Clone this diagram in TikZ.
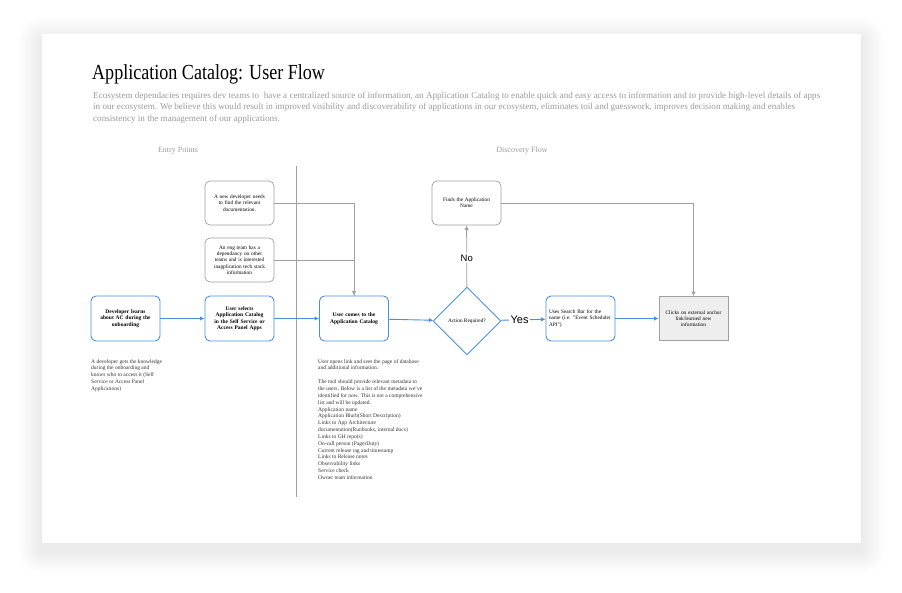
\documentclass[tikz,border=0pt]{standalone}
\usepackage{fontspec}
\setmainfont{Liberation Serif}
\newfontfamily\titlefont[FakeStretch=0.84]{Liberation Serif}
\newfontfamily\answerfont{Liberation Sans}
\usetikzlibrary{arrows.meta,shapes.geometric}
\definecolor{flowblue}{HTML}{4A90E2}
\definecolor{linegray}{HTML}{A0A0A0}
\definecolor{textgray}{HTML}{9B9B9B}
\definecolor{boxfill}{HTML}{EEEEEE}
\tikzset{
  >=Latex,
  stepbox/.style={rectangle, draw=flowblue, rounded corners=5pt, line width=0.9pt,
    minimum width=69pt, minimum height=45pt, text width=63pt, inner sep=1pt, align=center,
    font=\fontsize{5.5}{6.5}\selectfont\bfseries},
  entrybox/.style={rectangle, draw=linegray, rounded corners=5pt, line width=0.7pt,
    minimum width=69pt, minimum height=44pt, text width=63pt, inner sep=1pt, align=center,
    font=\fontsize{5.3}{6.3}\selectfont},
  endbox/.style={entrybox, rounded corners=0pt, fill=boxfill},
  decision/.style={diamond, aspect=1, draw=flowblue, line width=0.9pt,
    minimum size=68pt, inner sep=0pt, font=\fontsize{5.3}{6.3}\selectfont},
  flow/.style={-{Latex[length=4.5pt,width=4.5pt]}, flowblue, line width=0.9pt},
  feed/.style={-{Latex[length=4.5pt,width=4.5pt]}, linegray, line width=0.8pt},
  feedline/.style={linegray, line width=0.8pt},
  answer/.style={fill=white, text=black, inner sep=1.5pt, font=\answerfont},
  note/.style={anchor=north west, inner sep=0pt, align=left, text=black!80,
    font=\fontsize{5.5}{6.85}\selectfont},
  heading/.style={text=textgray, font=\fontsize{8}{9}\selectfont},
}

\begin{document}
\begin{tikzpicture}[x=1pt, y=-1pt]
  \useasboundingbox (0,0) rectangle (902,593);

  % ---- card with a soft shadow
  \foreach \s in {1,...,20}
    \fill[black, opacity=0.0045, rounded corners={1.2*\s}]
      ({42-1.2*\s}, {34-1.2*\s+7}) rectangle ({861+1.2*\s}, {543+1.2*\s+7});
  \fill[white] (42,34) rectangle (861,543);

  % ---- title and intro
  \node[anchor=base west, inner sep=0pt, font=\titlefont\fontsize{21.5}{23}\selectfont]
    (title) at (92,80) {Application Catalog: User Flow};
  \node[anchor=north west, inner sep=0pt, align=left, text=textgray,
        font=\fontsize{9.1}{11.2}\selectfont] (intro) at (93,92)
    {Ecosystem dependacies requires dev teams to\ \ have a centralized source of information, an Application Catalog to enable quick and easy access to information and to provide high-level details of apps\\
     in our ecosystem. We believe this would result in improved visibility and discoverability of applications in our ecosystem, eliminates toil and guesswork, improves decision making and enables\\
     consistency in the management of our applications.};

  % ---- section captions and divider
  \node[heading] (entry) at (178,151) {Entry Points};
  \node[heading] (discovery) at (522,151) {Discovery Flow};
  \coordinate (divtop) at (296,166);
  \coordinate (divbot) at (296,497);
  \draw[linegray, line width=0.7pt] (divtop) -- (divbot);

  % ---- main row
  \node[stepbox] (onboard) at (125.5,318.5) {Developer learns\\ about AC during the\\ onboarding};
  \node[stepbox] (select)  at (239.5,318.5) {User selects\\ Application Catalog\\ in the Self Service or\\ Access Panel Apps};
  \node[stepbox] (catalog) at (354,318.5)   {User comes to the\\ Application Catalog};
  \node[decision] (action) at (467,321)     {Action Required?};
  \node[stepbox, align=left, font=\fontsize{5.3}{6.3}\selectfont] (search) at (580.5,318.5)
    {Uses Search Bar for the\\ name (i.e. "Event Scheduler\\ API")};
  \node[endbox] (clicks) at (693.5,318.5) {Clicks on external anchor\\ link/learned new\\ information};

  % ---- entry points and lookup
  \node[entrybox] (newdev)  at (239.5,203) {A new developer needs\\ to find the relevant\\ documentation.};
  \node[entrybox] (engteam) at (239.5,260) {An eng team has a\\ dependancy on other\\ teams and is interested\\ inapplication tech stack\\ information};
  \node[entrybox] (finds)   at (466.5,203) {Finds the Application\\ Name};

  % ---- notes
  \node[note] (onboardnote) at (91,359)
    {A developer gets the knowledge\\ during the onboarding and\\ knows who to access it (Self\\ Service or Access Panel\\ Applications)};
  \node[note] (catalognote) at (318,359)
    {User opens link and sees the page of database\\ and additional information.\\[6.85pt]
     The tool should provide relevant metadata to\\ the users. Below is a list of the metadata we've\\
     identified for now. This is not a comprehensive\\ list and will be updated.\\
     Application name\\ Application Blurb(Short Description)\\ Links to App Architecture\\
     documentation(Runbooks, internal docs)\\ Links to GH repo(s)\\ On-call person (PagerDuty)\\
     Current release tag and timestamp\\ Links to Release notes\\ Observability links\\
     Service check\\ Owner team information};

  % ---- connectors
  \draw[flow] (onboard) -- (select);
  \draw[flow] (select) -- (catalog);
  \draw[flow] (catalog) -- (action);
  \draw[flow] (action) -- node[answer, pos=0.42, font=\answerfont\fontsize{11}{12}\selectfont] {Yes} (search);
  \draw[flow] (search) -- (clicks);
  \draw[feedline] (engteam) -| (catalog);
  \draw[feed] (newdev) -| (catalog);
  \draw[feed] (action) -- node[answer, pos=0.47, font=\answerfont\fontsize{9.5}{11}\selectfont] {No} (finds);
  \draw[feed] (finds) -| (clicks);

\end{tikzpicture}
\end{document}
